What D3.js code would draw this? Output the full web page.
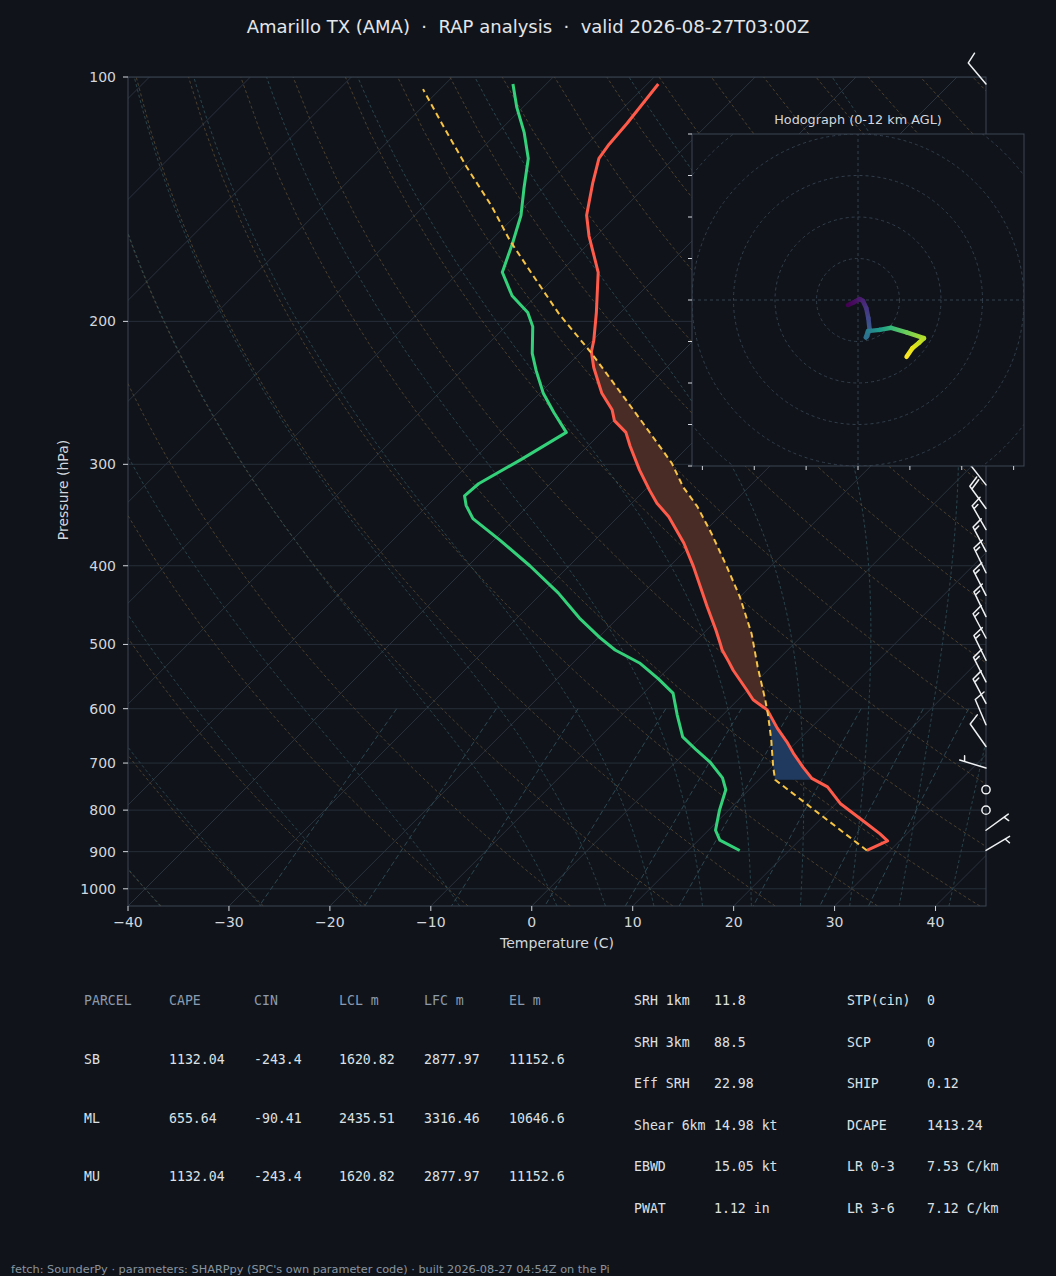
<!DOCTYPE html>
<html>
<head>
<meta charset="utf-8">
<script src="https://cdn.jsdelivr.net/npm/d3@7"></script>
<style>
  html, body { margin: 0; padding: 0; background: #10141a; }
  svg { display: block; }
  text { font-family: "DejaVu Sans", sans-serif; }
  .mono { font-family: "DejaVu Sans Mono", monospace; }
</style>
</head>
<body>
<svg id="chart" width="1056" height="1276"></svg>
<script>
// ---- sounding data ----
const envP = [897, 873, 855, 831, 785, 749, 731, 708, 681, 659, 634, 602, 585, 569, 538, 525, 508, 498, 480, 449, 401, 375, 348, 335, 323, 305, 285, 274, 265, 257, 245, 228, 218, 211, 195, 174, 157, 148, 135, 126, 121, 114, 102];
const envT = [27.7, 28.8, 27.3, 25.0, 20.4, 17.5, 15.1, 13.1, 10.8, 9.0, 6.7, 3.9, 1.5, -0.1, -3.4, -4.7, -6.5, -7.4, -9.1, -12.3, -17.6, -20.9, -25.0, -27.5, -29.5, -32.5, -35.8, -37.6, -39.9, -41.2, -43.9, -47.2, -49.0, -49.9, -52.4, -56.2, -60.7, -63.0, -65.6, -67.4, -67.8, -68.1, -68.9];

const dewP = [897, 871, 847, 800, 755, 730, 698, 675, 650, 611, 574, 551, 527, 508, 490, 464, 432, 400, 372, 350, 337, 328, 317, 296, 274, 259, 245, 230, 219, 203, 195, 186, 174, 160, 148, 137, 126, 117, 109, 102];
const dewT = [15.1, 12.1, 10.7, 9.1, 7.7, 6.2, 3.4, 0.9, -1.8, -4.5, -7.1, -10.0, -13.4, -17.1, -19.9, -23.8, -28.4, -33.9, -39.4, -44.2, -46.2, -47.3, -47.1, -45.3, -43.5, -46.7, -49.7, -52.6, -54.7, -57.3, -59.2, -62.4, -65.7, -67.6, -69.5, -71.9, -74.4, -77.4, -80.6, -83.3];

const parcelP = [897, 734, 707, 656, 611, 585, 533, 485, 437, 401, 365, 338, 320, 299, 283, 267, 241, 218, 196, 176, 159, 144, 129, 115, 103.5];
const parcelT = [27.7, 11.6, 10.1, 7.3, 4.5, 2.7, -1.3, -5.2, -10.0, -14.3, -19.1, -23.2, -26.5, -30.0, -33.3, -36.8, -43.0, -49.1, -55.9, -62.2, -68.1, -73.4, -79.7, -86.0, -91.7];
const lclP = 734;

// wind barbs (pressure hPa, direction deg, speed kt)
const barbP = [897, 847, 800, 755, 710, 668, 628, 591, 556, 523, 491, 462, 435, 408, 384, 361, 340, 318, 299, 280, 263, 247, 231, 217, 204, 191, 179, 168, 158, 148, 102];
const barbDir = [59, 54, 0, 0, 287, 325, 337, 332, 333, 334, 332, 334, 333, 334, 332, 330, 324, 322, 320, 318, 315, 312, 310, 308, 305, 305, 303, 300, 300, 298, 320];
const barbSpd = [5, 5, 0, 0, 5, 10, 10, 15, 15, 15, 15, 15, 15, 15, 15, 15, 20, 20, 20, 20, 20, 20, 20, 20, 20, 15, 15, 15, 15, 15, 10];

// hodograph trace (kt) and height AGL (km)
const hodoU = [-2.4, -1.2, 0.4, 1.2, 2.0, 2.5, 2.8, 2.2, 1.9, 2.4, 5.2, 8.0, 11.7, 15.9, 14.7, 13.1, 11.7];
const hodoV = [-1.2, -0.65, 0.24, -0.24, -2.0, -4.4, -7.1, -8.7, -9.0, -7.5, -7.2, -6.7, -7.8, -9.2, -10.3, -11.6, -13.7];
const hodoZ = [0, 0.3, 0.8, 1.2, 1.8, 2.5, 3.4, 4.0, 4.4, 5.0, 6.5, 8.0, 9.3, 10.6, 11.0, 11.5, 12.0];

// axis ticks
const pressureTicks = [100, 200, 300, 400, 500, 600, 700, 800, 900, 1000];
const tempTicks = [-40, -30, -20, -10, 0, 10, 20, 30, 40];
const mixingRatios = [0.0004, 0.001, 0.002, 0.004, 0.007, 0.01, 0.016, 0.024, 0.032];

// parameter tables
const parcelCols = ['PARCEL', 'CAPE', 'CIN', 'LCL m', 'LFC m', 'EL m'];
const parcelNames = ['SB', 'ML', 'MU'];
const parcelVals = [
  ['1132.04', '-243.4', '1620.82', '2877.97', '11152.6'],
  ['655.64', '-90.41', '2435.51', '3316.46', '10646.6'],
  ['1132.04', '-243.4', '1620.82', '2877.97', '11152.6']
];
const kinLabels = ['SRH 1km', 'SRH 3km', 'Eff SRH', 'Shear 6km', 'EBWD', 'PWAT'];
const kinVals = ['11.8', '88.5', '22.98', '14.98 kt', '15.05 kt', '1.12 in'];
const compLabels = ['STP(cin)', 'SCP', 'SHIP', 'DCAPE', 'LR 0-3', 'LR 3-6'];
const compVals = ['0', '0', '0.12', '1413.24', '7.53 C/km', '7.12 C/km'];

const titleText = 'Amarillo TX (AMA)  ·  RAP analysis  ·  valid 2026-08-27T03:00Z';
const footerText = "fetch: SounderPy · parameters: SHARPpy (SPC's own parameter code) · built 2026-08-27 04:54Z on the Pi";

// ---- layout ----
const W = 1056, H = 1276;
const plot = {left: 128, right: 986, top: 77, bottom: 906};
const bg = '#10141a';
const spineColor = '#3a4553';
const tickText = '#d3d7dd';

const svg = d3.select('#chart');
svg.append('rect').attr('width', W).attr('height', H).attr('fill', bg);

const x = d3.scaleLinear().domain([-40, 45]).range([plot.left, plot.right]);
const y = d3.scaleLog().domain([1050, 100]).range([plot.bottom, plot.top]);
// 45 degree skew in screen space
const skewX = (t, p) => x(t) + (plot.bottom - y(p));
const skewLine = d3.line().x(d => skewX(d[1], d[0])).y(d => y(d[0]));

const defs = svg.append('defs');
defs.append('clipPath').attr('id', 'plotClip').append('rect')
    .attr('x', plot.left).attr('y', plot.top)
    .attr('width', plot.right - plot.left).attr('height', plot.bottom - plot.top);

const plotG = svg.append('g').attr('clip-path', 'url(#plotClip)');

// ---- thermodynamic helpers for the background guide lines ----
const Rd = 287.04749, Cp = 1004.6662, Lv = 2.501e6, eps = 0.621957, kappa = Rd / Cp;
function satMix(T, p) {
  const es = 6.112 * Math.exp(17.67 * (T - 273.15) / (T - 29.65));
  return eps * es / (p - es);
}
function moistDT(p, T) {
  const rs = satMix(T, p);
  return (Rd * T + Lv * rs) / (Cp + Lv * Lv * rs * eps / (Rd * T * T)) / p;
}
function moistAdiabat(t0C) {
  const integrate = (pEnd, dp) => {
    const pts = [];
    let p = 1000, T = t0C + 273.15;
    while ((dp < 0 && p > pEnd) || (dp > 0 && p < pEnd)) {
      const k1 = moistDT(p, T);
      const k2 = moistDT(p + dp / 2, T + dp / 2 * k1);
      const k3 = moistDT(p + dp / 2, T + dp / 2 * k2);
      const k4 = moistDT(p + dp, T + dp * k3);
      T += dp / 6 * (k1 + 2 * k2 + 2 * k3 + k4);
      p += dp;
      pts.push([p, T - 273.15]);
    }
    return pts;
  };
  const down = integrate(1050, 5).reverse();
  return down.concat([[1000, t0C]], integrate(100, -5));
}

// pressure grid
plotG.selectAll('.pgrid').data(pressureTicks).join('line')
    .attr('x1', plot.left).attr('x2', plot.right)
    .attr('y1', d => y(d)).attr('y2', d => y(d))
    .attr('stroke', '#262e39').attr('stroke-width', 1);

// isotherms
plotG.selectAll('.iso').data(d3.range(-130, 50, 10)).join('line')
    .attr('x1', d => skewX(d, 1050)).attr('y1', y(1050))
    .attr('x2', d => skewX(d, 100)).attr('y2', y(100))
    .attr('stroke', '#29323d').attr('stroke-width', 1);

// dry adiabats
const pLin = d3.range(0, 60).map(i => 1050 - i * (950 / 59));
plotG.selectAll('.dry').data(d3.range(-40, 250, 10)).join('path')
    .attr('d', t0 => skewLine(pLin.map(p => [p, (t0 + 273.15) * Math.pow(p / 1000, kappa) - 273.15])))
    .attr('fill', 'none').attr('stroke', '#5a4a33').attr('stroke-opacity', 0.8)
    .attr('stroke-width', 1).attr('stroke-dasharray', '3,2.5');

// moist adiabats
const moistT0 = [-40, -30, -20, -10, 0, 5, 10, 15, 20, 25, 30, 35, 40, 45];
plotG.selectAll('.moist').data(moistT0).join('path')
    .attr('d', t0 => skewLine(moistAdiabat(t0)))
    .attr('fill', 'none').attr('stroke', '#2c4952').attr('stroke-opacity', 0.9)
    .attr('stroke-width', 1).attr('stroke-dasharray', '3,2.5');

// mixing ratio lines
const pMix = d3.range(0, 20).map(i => 600 + i * (450 / 19));
plotG.selectAll('.mix').data(mixingRatios).join('path')
    .attr('d', w => skewLine(pMix.map(p => {
      const e = p * w / (eps + w);
      const l = Math.log(e / 6.112);
      return [p, 243.5 * l / (17.67 - l)];
    })))
    .attr('fill', 'none').attr('stroke', '#2d4853')
    .attr('stroke-width', 1).attr('stroke-dasharray', '5,3');

// ---- CAPE / CIN shading ----
function interp(ps, ts, p) {
  const lp = Math.log(p);
  for (let i = 0; i < ps.length - 1; i++) {
    if (p <= ps[i] && p >= ps[i + 1]) {
      const f = (lp - Math.log(ps[i])) / (Math.log(ps[i + 1]) - Math.log(ps[i]));
      return ts[i] + f * (ts[i + 1] - ts[i]);
    }
  }
  return p > ps[0] ? ts[0] : ts[ts.length - 1];
}
function fillRegions(pTop, pBot, sign) {
  const lv = Array.from(new Set([...envP, ...parcelP, pTop, pBot]))
      .filter(p => p <= pBot && p >= pTop).sort((a, b) => b - a);
  const diff = p => sign * (interp(parcelP, parcelT, p) - interp(envP, envT, p));
  const regions = [];
  let cur = null;
  lv.forEach((p, i) => {
    const d = diff(p);
    if (i > 0) {
      const p0 = lv[i - 1], d0 = diff(p0);
      if ((d0 > 0) !== (d > 0) && d0 !== d) {
        const f = d0 / (d0 - d);
        const pc = Math.exp(Math.log(p0) + f * (Math.log(p) - Math.log(p0)));
        if (cur) { cur.push(pc); regions.push(cur); cur = null; }
        else cur = [pc];
      }
    }
    if (d > 0) { if (!cur) cur = []; cur.push(p); }
  });
  if (cur) regions.push(cur);
  return regions;
}
function regionPath(ps) {
  const a = ps.map(p => [skewX(interp(parcelP, parcelT, p), p), y(p)]);
  const b = ps.slice().reverse().map(p => [skewX(interp(envP, envT, p), p), y(p)]);
  return 'M' + a.concat(b).map(d => d.join(',')).join('L') + 'Z';
}
const capeRegions = fillRegions(parcelP[parcelP.length - 1], parcelP[0], 1);
plotG.selectAll('.cape').data(capeRegions).join('path')
    .attr('d', regionPath).attr('fill', '#4a2c26');
const cinRegions = fillRegions(parcelP[parcelP.length - 1], lclP, -1).slice(0, 1);
plotG.selectAll('.cin').data(cinRegions).join('path')
    .attr('d', regionPath).attr('fill', '#1f3a5e');

// ---- profiles ----
plotG.append('path').attr('d', skewLine(dewP.map((p, i) => [p, dewT[i]])))
    .attr('fill', 'none').attr('stroke', '#35d07a').attr('stroke-width', 3)
    .attr('stroke-linejoin', 'round');
plotG.append('path').attr('d', skewLine(envP.map((p, i) => [p, envT[i]])))
    .attr('fill', 'none').attr('stroke', '#ff5b4b').attr('stroke-width', 3)
    .attr('stroke-linejoin', 'round');
plotG.append('path').attr('d', skewLine(parcelP.map((p, i) => [p, parcelT[i]])))
    .attr('fill', 'none').attr('stroke', '#f6c344').attr('stroke-width', 2)
    .attr('stroke-dasharray', '6,4');

// ---- axes ----
svg.append('rect')
    .attr('x', plot.left).attr('y', plot.top)
    .attr('width', plot.right - plot.left).attr('height', plot.bottom - plot.top)
    .attr('fill', 'none').attr('stroke', spineColor).attr('stroke-width', 1);

const yAxis = svg.append('g');
yAxis.selectAll('line').data(pressureTicks).join('line')
    .attr('x1', plot.left - 5).attr('x2', plot.left)
    .attr('y1', d => y(d)).attr('y2', d => y(d))
    .attr('stroke', tickText).attr('stroke-width', 1);
yAxis.selectAll('text').data(pressureTicks).join('text')
    .attr('x', plot.left - 12).attr('y', d => y(d)).attr('dy', '0.35em')
    .attr('text-anchor', 'end').attr('font-size', 14).attr('fill', tickText)
    .text(d => d);

const xAxis = svg.append('g');
xAxis.selectAll('line').data(tempTicks).join('line')
    .attr('x1', d => x(d)).attr('x2', d => x(d))
    .attr('y1', plot.bottom).attr('y2', plot.bottom + 5)
    .attr('stroke', tickText).attr('stroke-width', 1);
xAxis.selectAll('text').data(tempTicks).join('text')
    .attr('x', d => x(d)).attr('y', plot.bottom + 16).attr('dy', '0.35em')
    .attr('text-anchor', 'middle').attr('font-size', 14).attr('fill', tickText)
    .text(d => String(d).replace('-', '\u2212'));

svg.append('text').attr('x', (plot.left + plot.right) / 2).attr('y', 943).attr('dy', '0.35em')
    .attr('text-anchor', 'middle').attr('font-size', 14).attr('fill', tickText)
    .text('Temperature (C)');
svg.append('text').attr('transform', 'translate(63,490) rotate(-90)').attr('dy', '0.35em')
    .attr('text-anchor', 'middle').attr('font-size', 14).attr('fill', tickText)
    .text('Pressure (hPa)');

svg.append('text').attr('x', W / 2).attr('y', 27).attr('dy', '0.35em')
    .attr('text-anchor', 'middle').attr('font-size', 18).attr('fill', '#e3e6ea')
    .style('white-space', 'pre').text(titleText);

// ---- wind barbs on the right spine ----
const barbG = svg.append('g').attr('stroke', '#eef0f2').attr('stroke-width', 1.5)
    .attr('fill', 'none').attr('stroke-linecap', 'round');
function drawBarb(bx, by, dir, spd) {
  const L = 27.5, sp = 0.125 * L;
  if (Math.round(spd / 5) * 5 === 0) {
    barbG.append('circle').attr('cx', bx).attr('cy', by).attr('r', 0.15 * L);
    return;
  }
  const a = dir * Math.PI / 180;
  const ux = Math.sin(a), uy = -Math.cos(a);
  const px = -uy, py = ux;
  const r = Math.round(spd / 5) * 5;
  const nFull = Math.floor(r / 10);
  const half = r - nFull * 10 >= 5;
  let d = `M${bx},${by}L${bx + ux * L},${by + uy * L}`;
  let off = 0;
  for (let i = 0; i < nFull; i++) {
    const sx = bx + ux * (L - off), sy = by + uy * (L - off);
    d += `M${sx},${sy}L${sx + px * 0.4 * L + ux * 0.125 * L},${sy + py * 0.4 * L + uy * 0.125 * L}`;
    off += sp;
  }
  if (half) {
    if (off === 0) off = 1.5 * sp;
    const sx = bx + ux * (L - off), sy = by + uy * (L - off);
    d += `M${sx},${sy}L${sx + px * 0.2 * L + ux * 0.0625 * L},${sy + py * 0.2 * L + uy * 0.0625 * L}`;
  }
  barbG.append('path').attr('d', d);
}
barbP.forEach((p, i) => drawBarb(plot.right, y(p), barbDir[i], barbSpd[i]));

// ---- hodograph inset ----
const hodo = {left: 692, top: 134, size: 332};
const hx = d3.scaleLinear().domain([-40, 40]).range([hodo.left, hodo.left + hodo.size]);
const hy = d3.scaleLinear().domain([-40, 40]).range([hodo.top + hodo.size, hodo.top]);
defs.append('clipPath').attr('id', 'hodoClip').append('rect')
    .attr('x', hodo.left).attr('y', hodo.top).attr('width', hodo.size).attr('height', hodo.size);

const hodoG = svg.append('g');
hodoG.append('rect').attr('x', hodo.left).attr('y', hodo.top)
    .attr('width', hodo.size).attr('height', hodo.size).attr('fill', bg);
const hodoInner = hodoG.append('g').attr('clip-path', 'url(#hodoClip)');
hodoInner.selectAll('circle').data([10, 20, 30, 40, 50]).join('circle')
    .attr('cx', hx(0)).attr('cy', hy(0)).attr('r', d => hx(d) - hx(0))
    .attr('fill', 'none').attr('stroke', '#323e4c').attr('stroke-width', 1)
    .attr('stroke-dasharray', '3,3');
hodoInner.append('line').attr('x1', hx(-40)).attr('x2', hx(40)).attr('y1', hy(0)).attr('y2', hy(0))
    .attr('stroke', '#323e4c').attr('stroke-dasharray', '3,3');
hodoInner.append('line').attr('x1', hx(0)).attr('x2', hx(0)).attr('y1', hy(-40)).attr('y2', hy(40))
    .attr('stroke', '#323e4c').attr('stroke-dasharray', '3,3');

// colored trace, one gradient per segment
hodoU.slice(1).forEach((u, i) => {
  const gid = 'hseg' + i;
  const grad = defs.append('linearGradient').attr('id', gid).attr('gradientUnits', 'userSpaceOnUse')
      .attr('x1', hx(hodoU[i])).attr('y1', hy(hodoV[i]))
      .attr('x2', hx(hodoU[i + 1])).attr('y2', hy(hodoV[i + 1]));
  grad.append('stop').attr('offset', 0).attr('stop-color', d3.interpolateViridis(hodoZ[i] / 12));
  grad.append('stop').attr('offset', 1).attr('stop-color', d3.interpolateViridis(hodoZ[i + 1] / 12));
  hodoInner.append('line')
      .attr('x1', hx(hodoU[i])).attr('y1', hy(hodoV[i]))
      .attr('x2', hx(hodoU[i + 1])).attr('y2', hy(hodoV[i + 1]))
      .attr('stroke', `url(#${gid})`).attr('stroke-width', 4.5).attr('stroke-linecap', 'round');
});

hodoG.append('rect').attr('x', hodo.left).attr('y', hodo.top)
    .attr('width', hodo.size).attr('height', hodo.size)
    .attr('fill', 'none').attr('stroke', spineColor);
hodoG.selectAll('.hyt').data(d3.range(-40, 41, 10)).join('line')
    .attr('x1', hodo.left - 4).attr('x2', hodo.left)
    .attr('y1', d => hy(d)).attr('y2', d => hy(d))
    .attr('stroke', tickText);
hodoG.selectAll('.hxt').data(d3.range(-37.5, 40, 12.5)).join('line')
    .attr('x1', d => hx(d)).attr('x2', d => hx(d))
    .attr('y1', hodo.top + hodo.size).attr('y2', hodo.top + hodo.size + 4)
    .attr('stroke', tickText);
hodoG.append('text').attr('x', hx(0)).attr('y', 120).attr('dy', '0.35em')
    .attr('text-anchor', 'middle').attr('font-size', 12.8).attr('fill', tickText)
    .text('Hodograph (0-12 km AGL)');

// ---- parameter tables ----
const tbl = svg.append('g').attr('font-size', 13.2);
const colX = [84, 169, 254, 339, 424, 509];
const rowY = [1000, 1059, 1118, 1176];
tbl.selectAll('.hdr').data(parcelCols).join('text')
    .attr('class', 'mono').attr('x', (d, i) => colX[i]).attr('y', rowY[0]).attr('dy', '0.35em')
    .attr('fill', '#8a9bb0').text(d => d);
parcelNames.forEach((name, r) => {
  tbl.selectAll('.r' + r).data([name].concat(parcelVals[r])).join('text')
      .attr('class', 'mono').attr('x', (d, i) => colX[i]).attr('y', rowY[r + 1]).attr('dy', '0.35em')
      .attr('fill', '#dde1e6').text(d => d);
});
const kinY = [1000, 1042, 1083, 1125, 1166, 1208];
const kinCols = [[kinLabels, 634], [kinVals, 714], [compLabels, 847], [compVals, 927]];
kinCols.forEach(([arr, cx], c) => {
  tbl.selectAll('.k' + c).data(arr).join('text')
      .attr('class', 'mono').attr('x', cx).attr('y', (d, i) => kinY[i]).attr('dy', '0.35em')
      .attr('fill', '#dde1e6').style('white-space', 'pre').text(d => d);
});

svg.append('text').attr('x', 11).attr('y', 1269).attr('dy', '0.35em')
    .attr('font-size', 11.3).attr('fill', '#8a94a0').text(footerText);
</script>
</body>
</html>
